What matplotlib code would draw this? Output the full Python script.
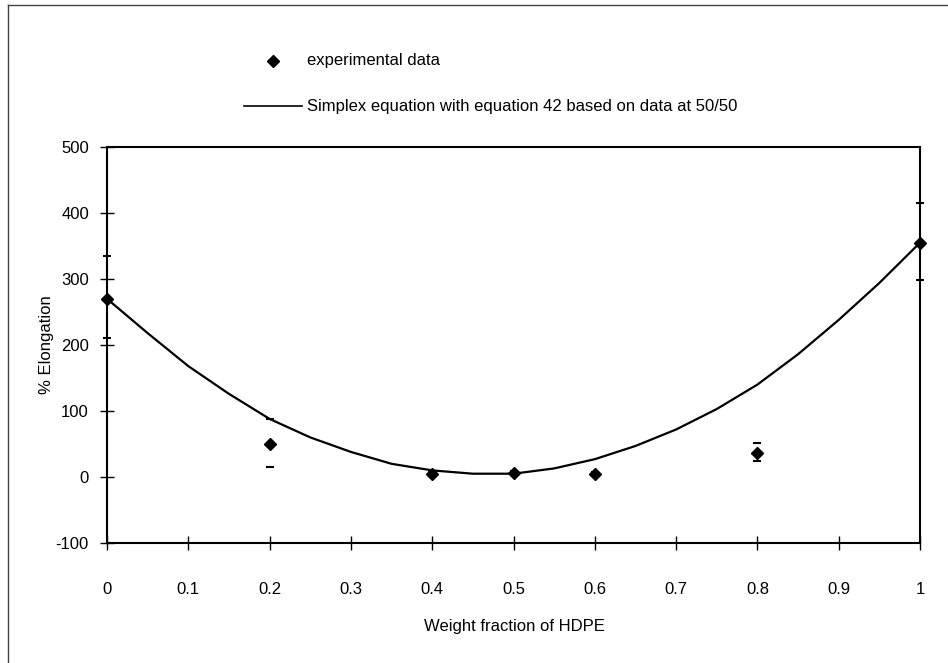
import matplotlib
matplotlib.use("Agg")
import matplotlib.pyplot as plt
from matplotlib.lines import Line2D

plt.rcParams['font.family'] = ['Liberation Sans', 'DejaVu Sans']
plt.rcParams['axes.unicode_minus'] = False

exp_x = [0, 0.2, 0.4, 0.5, 0.6, 0.8, 1.0]
exp_y = [270, 50, 5, 6, 5, 37, 355]
err_up = [65, 38, 3, 3, 3, 15, 60]
err_down = [60, 35, 3, 3, 3, 12, 57]

# simplex curve
curve_x = [0, 0.05, 0.1, 0.15, 0.2, 0.25, 0.3, 0.35, 0.4, 0.45, 0.5,
           0.55, 0.6, 0.65, 0.7, 0.75, 0.8, 0.85, 0.9, 0.95, 1.0]
curve_y = [270, 218, 168, 126, 88, 60, 38, 20, 10, 5, 5,
           13, 27, 47, 72, 103, 140, 186, 238, 294, 355]

x_ticks = [0, 0.1, 0.2, 0.3, 0.4, 0.5, 0.6, 0.7, 0.8, 0.9, 1.0]
x_labels = ['0', '0.1', '0.2', '0.3', '0.4', '0.5', '0.6', '0.7', '0.8', '0.9', '1']
y_ticks = [-100, 0, 100, 200, 300, 400, 500]

W, H = 948, 663
FS = 12
fig = plt.figure(figsize=(W / 100, H / 100), dpi=100)
ax = fig.add_axes([107 / W, 1 - 543 / H, (920 - 107) / W, (543 - 147) / H])

ax.plot(curve_x, curve_y, color='black', lw=1.6, clip_on=False)
ax.errorbar(exp_x, exp_y, yerr=[err_down, err_up], fmt='D', color='black',
            markersize=6, elinewidth=0, capsize=3, capthick=1.5, clip_on=False, zorder=5)

ax.set_xlim(0, 1)
ax.set_ylim(-100, 500)
ax.set_xticks(x_ticks)
ax.set_xticklabels(x_labels)
ax.set_yticks(y_ticks)
ax.tick_params(axis='both', direction='inout', length=10, width=1.0, labelsize=FS, colors='black')
ax.tick_params(axis='x', pad=23)
ax.tick_params(axis='y', pad=8)
for s in ax.spines.values():
    s.set_linewidth(1.5)

fig.text(514 / W, 1 - 627 / H, 'Weight fraction of HDPE', ha='center', va='center', fontsize=FS)
fig.text(47 / W, 1 - 345 / H, '% Elongation', ha='center', va='center', rotation=90, fontsize=FS)

# legend drawn by hand like the original
fig.add_artist(Line2D([273 / W], [1 - 61 / H], marker='D', color='black', markersize=6, linestyle='none'))
fig.text(307 / W, 1 - 61 / H, 'experimental data', ha='left', va='center', fontsize=FS)
fig.add_artist(Line2D([244 / W, 302 / W], [1 - 106 / H, 1 - 106 / H], color='black', lw=1.2))
fig.text(307 / W, 1 - 106 / H, 'Simplex equation with equation 42 based on data at 50/50',
         ha='left', va='center', fontsize=FS)

# page frame (top and left edge)
fig.add_artist(Line2D([8 / W, 1], [1 - 5 / H, 1 - 5 / H], color='#444444', lw=1.0))
fig.add_artist(Line2D([8 / W, 8 / W], [0, 1 - 5 / H], color='#444444', lw=1.0))

fig.savefig('out.png', dpi=100)
